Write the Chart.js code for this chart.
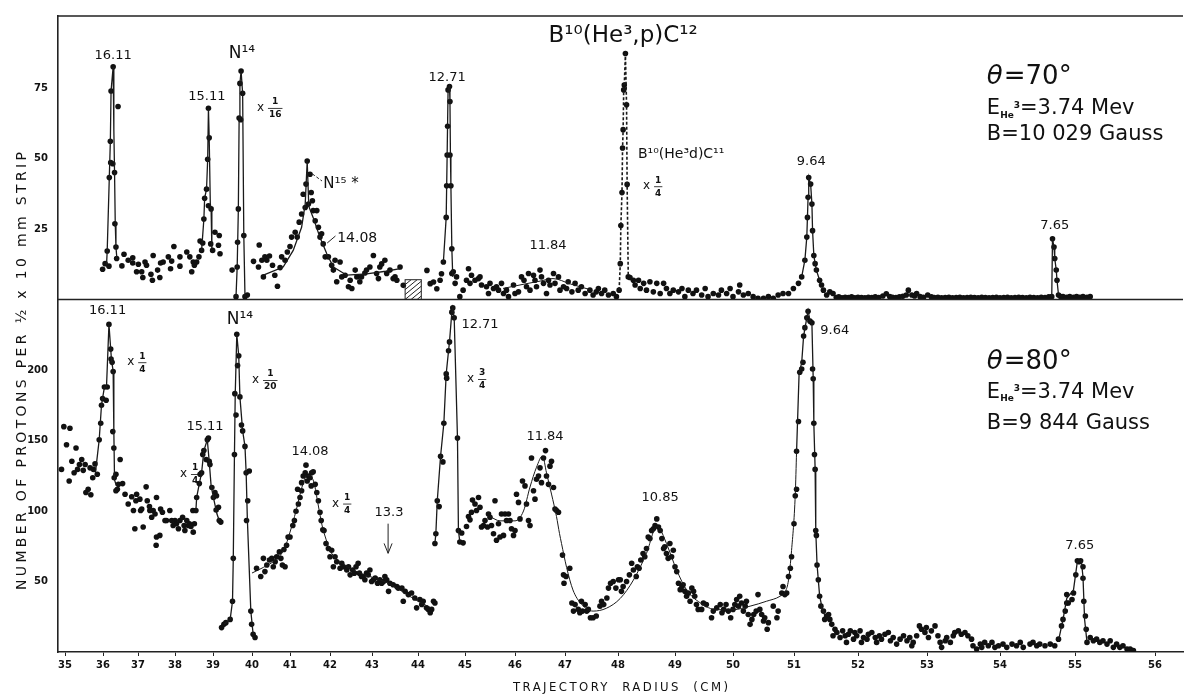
<!DOCTYPE html>
<html>
<head>
<meta charset="utf-8">
<script src="https://cdn.jsdelivr.net/npm/chart.js@4.4.1/dist/chart.umd.min.js"></script>
<style>
  html, body { margin: 0; padding: 0; background: #fff; }
  #contenedor { position: relative; width: 1196px; height: 698px; }
</style>
</head>
<body>
<div id="contenedor"><canvas id="espectro"></canvas></div>
<script>
// Marcas del eje de radio (cm) y su posición medida sobre la placa (la dispersión no es lineal)
const marcasRadio = [35, 36, 37, 38, 39, 40, 41, 42, 43, 44, 45, 46, 47, 48, 49, 50, 51, 52, 53, 54, 55, 56];
const posicionMarcas = [7, 45, 80, 117, 155, 194, 232, 272, 314, 360, 407, 457, 507, 560, 617, 675, 736, 800, 869, 942, 1017, 1097];
const radioMin = 34.82, radioMax = 56.35, anchoPlaca = 1125;

const marcasArriba = [25, 50, 75];
const marcasAbajo = [50, 100, 150, 200];

// theta = 70 grados: puntos medidos
const puntosArriba = [
  [35.99,10.7],[36.06,12.7],[36.12,17.2],[36.17,11.8],[36.18,43.2],[36.21,56.1],[36.22,48.5],[36.23,73.9],[36.28,48.1],[36.29,82.5],[36.33,45],[36.34,26.8],[36.37,18.6],[36.39,14.5],[36.43,68.4],
  [36.54,11.9],[36.6,16],[36.72,13.9],[36.85,14.8],[36.85,12.9],[36.96,9.8],[37.01,12.5],[37.1,9.8],[37.13,7.8],[37.19,13.3],[37.23,12.1],[37.35,8.9],[37.39,6.8],[37.41,15.6],[37.53,10.4],[37.59,7.8],[37.61,12.9],[37.68,13.3],[37.82,15.1],[37.88,10.9],[37.91,13.6],[37.97,18.8],[38.13,11.8],[38.13,15.1],[38.31,16.8],[38.39,15.1],[38.44,9.8],[38.48,13.3],[38.51,12.1],[38.57,13.3],[38.63,15.1],[38.66,20.7],[38.7,17.4],[38.73,20],
  [38.76,28.5],[38.78,35.9],[38.83,39.1],[38.86,49.7],[38.88,67.8],[38.9,57.3],[38.88,33.2],[38.95,32.1],[38.94,19.7],[38.99,17.4],[39.05,23.8],[39.14,19.2],[39.16,22.7],[39.18,16.2],
  [39.49,10.4],[39.59,1],[39.62,11.5],[39.63,20.3],[39.65,32.1],[39.67,64.3],[39.69,76.6],[39.71,63.7],[39.72,81],[39.76,73.1],[39.79,22.7],[39.82,1],[39.88,1.6],
  [40.04,13.5],[40.19,19.3],[40.17,11.5],[40.26,13.9],[40.3,8],[40.34,15.1],[40.39,13.9],[40.46,15.4],[40.54,12.1],[40.6,8.6],[40.67,4.7],[40.74,11.3],[40.78,15.1],[40.87,13.9],[40.93,16.8],[41,18.8],[41.04,22.1],[41.13,23.8],[41.18,22.1],[41.23,27.4],[41.29,30.3],[41.33,37.3],[41.38,32.6],[41.4,40.9],[41.43,49.1],[41.46,33.8],[41.5,44.4],[41.53,37.9],[41.56,35],[41.58,31.5],[41.63,27.9],[41.67,31.5],[41.71,25.6],[41.75,22.1],[41.79,23.3],[41.83,19.7],[41.88,15.1],[41.96,15.1],[42.04,12.1],[42.08,10.4],[42.12,13.9],[42.16,6.3],[42.24,13.3],[42.28,8],[42.36,8.6],[42.44,4.5],[42.48,6.8],[42.52,3.9],[42.6,10.4],[42.64,8],[42.71,6.3],[42.75,8],[42.83,9.4],[42.87,10.4],[42.95,11.5],[43.03,15.6],[43.1,9.2],[43.14,7.4],[43.17,11.5],[43.21,12.6],[43.28,13.9],[43.32,9.2],[43.39,10.4],[43.46,7.4],[43.5,8],[43.54,6.8],[43.61,11.5],[43.68,5],
  [44.19,10.3],[44.26,5.6],[44.33,6.2],[44.4,3.8],[44.47,6.8],[44.5,9.1],[44.54,13.3],[44.6,29.1],[44.61,40.3],[44.62,51.2],[44.63,61.4],[44.64,74.3],[44.67,75.5],[44.68,70.2],[44.68,51.2],[44.7,40.3],[44.72,18],[44.72,9.2],[44.75,9.8],[44.79,5.7],[44.82,8],[44.89,1],[44.96,3.3],
  [45.03,6.8],[45.07,10.9],[45.1,5.7],[45.13,8.6],[45.2,6.8],[45.27,7.4],[45.3,8],[45.33,5.1],[45.43,4.5],[45.47,2.1],[45.5,5.7],[45.57,3.9],[45.63,4.5],[45.67,3.3],[45.73,5.7],[45.77,2.1],[45.83,3.3],[45.87,1],[45.97,5.1],[46,2.1],[46.07,2.7],[46.13,8],[46.18,6.8],[46.23,4.5],[46.27,9.2],[46.3,3.3],[46.37,8.6],[46.4,6.8],[46.43,4.5],[46.5,10.4],[46.53,8],[46.57,5.7],[46.63,2.1],[46.67,6.8],[46.7,5.1],[46.77,9.2],[46.8,5.7],[46.87,8],[46.9,3.3],[46.97,4.5],[47.03,3.9],[47.06,6.3],[47.13,2.7],[47.19,5.7],[47.25,3.3],[47.31,4.5],[47.38,2.1],[47.47,3.3],[47.53,1.6],[47.59,2.7],[47.63,3.9],[47.69,2.1],[47.75,3.3],[47.82,1.6],[47.91,2.1],[47.97,1],
  [48.21,7.8],[48.27,6.8],[48.3,5.1],[48.36,6.8],[48.39,3.9],[48.45,5.7],[48.5,3.3],[48.56,6.3],[48.62,2.7],[48.68,5.7],[48.74,2.1],[48.8,5.7],[48.85,3.9],[48.91,2.1],[48.97,3.3],[49.06,2.7],[49.12,3.9],[49.17,1],[49.23,3.3],[49.31,2.1],[49.37,3.3],
  [49.46,1.6],[49.52,3.9],[49.57,1],[49.66,2.1],[49.75,1.6],[49.8,3.3],[49.89,2.1],[49.95,3.9],[50,1],[50.09,2.7],[50.11,5.1],[50.17,1.6],[50.25,2.1],[50.33,1],[50.41,0.4],[50.5,0.4],[50.58,1],[50.66,0.4],[50.74,1.6],[50.82,2.1],[50.91,2.1],[50.99,3.9],[51.07,5.7],
  [51.12,8],[51.17,13.9],[51.2,22.1],[51.21,29.1],[51.22,36.2],[51.23,43.2],[51.26,40.9],[51.28,33.8],[51.29,24.4],[51.31,15.6],[51.33,12.7],[51.35,10.4],[51.4,6.8],[51.43,5.1],[51.46,3.3],[51.51,1.6],[51.56,2.7],[51.61,2.1],
  [51.66,0.7],[51.7,0.9],[51.75,0.6],[51.8,0.8],[51.85,0.7],[51.9,0.9],[51.95,0.6],[52,0.8],[52.05,0.7],[52.1,0.6],[52.15,0.8],[52.2,0.7],[52.25,0.9],[52.3,0.7],[52.36,1.2],[52.41,2],[52.46,1],[52.5,0.8],[52.55,0.7],[52.6,0.9],[52.65,1.1],[52.7,1.6],[52.73,3.3],[52.78,1.6],[52.82,1.2],[52.85,2.1],[52.9,1],[52.95,0.8],[53.01,1.6],[53.06,0.9],[53.1,0.7],[53.15,0.8],[53.2,0.6],[53.25,0.7],[53.3,0.8],[53.35,0.6],[53.4,0.7],[53.45,0.8],[53.5,0.6],[53.55,0.7],[53.6,0.8],[53.65,0.7],[53.7,0.6],[53.75,0.8],[53.8,0.7],[53.85,0.6],[53.9,0.7],[53.95,0.8],[54,0.6],[54.05,0.7],[54.1,0.8],[54.15,0.6],[54.2,0.7],[54.25,0.8],[54.3,0.7],[54.35,0.6],[54.4,0.8],[54.45,0.7],[54.5,0.6],[54.55,0.8],[54.6,0.7],[54.65,0.9],
  [54.69,1],[54.7,21.5],[54.72,18.6],[54.73,14.5],[54.75,10.4],[54.76,6.8],[54.78,1.6],[54.81,1],[54.84,1],[54.89,0.8],[54.93,1],[54.98,0.8],[55.02,1],[55.06,0.8],[55.1,1],[55.15,0.8],[55.19,1]
];

// B10(He3,d)C11, dibujado a 1/4
const puntosDeuteron = [[48.02,3.3],[48.04,12.7],[48.05,26.2],[48.07,37.9],[48.08,53.7],[48.09,60.2],[48.1,74.3],[48.11,76],[48.13,87.2],[48.15,69],[48.16,40.8],[48.18,8]];

// trazos que unen los picos (theta = 70)
const trazosArriba = [
  [[36.1,12],[36.12,17.2],[36.18,43.2],[36.21,56.1],[36.23,73.9],[36.29,82.5],[36.31,60],[36.33,45],[36.35,27],[36.37,18.6],[36.4,14]],
  [[38.7,17.4],[38.76,28.5],[38.78,35.9],[38.83,39.1],[38.86,49.7],[38.88,67.8],[38.9,57.3],[38.93,33],[38.95,32.1],[38.97,18]],
  [[39.59,1],[39.62,11.5],[39.65,32.1],[39.67,64.3],[39.69,76.6],[39.72,81],[39.76,73.1],[39.79,22.7],[39.82,1]],
  [[40.3,8.6],[40.82,11.5],[41.08,17.4],[41.29,25.6],[41.38,33.8],[41.43,49],[41.47,33],[41.58,29],[41.75,22],[41.92,16.2],[42.08,11.5],[42.4,8.6],[42.87,9.1],[43.3,10],[43.61,10.9]],
  [[44.54,13.3],[44.6,29.1],[44.62,51.2],[44.64,74.3],[44.67,75.5],[44.68,70.2],[44.69,51],[44.7,40.3],[44.72,18],[44.74,8]],
  [[51.12,8],[51.17,13.9],[51.2,22.1],[51.21,29.1],[51.22,36.2],[51.23,43.2],[51.26,40.9],[51.28,33.8],[51.29,24.4],[51.31,15.6],[51.33,12.7],[51.35,10.4],[51.4,6.8]],
  [[54.69,1],[54.7,21.5],[54.72,18.6],[54.73,14.5],[54.75,10.4],[54.76,6.8],[54.78,1.6]]
];
const ajustesArriba = [
  [[45.76,3.9],[46.2,5.5],[46.5,6.5],[46.76,7.4],[47.1,5.5],[47.47,3.5]]
];

// theta = 80 grados: puntos medidos
const puntosAbajo = [
  [34.91,129.5],[34.97,159.8],[35.04,147],[35.11,121.3],[35.13,158.7],[35.18,135.3],[35.24,127.1],[35.29,144.7],[35.33,129.5],[35.38,133],[35.44,136.5],[35.48,128.8],[35.53,133],[35.55,113.1],[35.61,115.4],[35.66,130.6],[35.68,111.5],[35.73,123.6],[35.75,129.5],[35.79,133.4],[35.85,126],
  [35.9,150.5],[35.94,162.2],[35.96,175],[35.99,179.7],[36.04,187.9],[36.09,178.5],[36.12,187.9],[36.17,232.3],[36.22,214.8],[36.23,207.8],[36.26,205.4],[36.29,198.9],[36.28,156.3],[36.31,144.7],[36.32,123.6],[36.37,126],[36.37,114.3],[36.41,115.4],[36.49,136.5],[36.44,118.9],
  [36.56,119.4],[36.63,111.9],[36.72,104.9],[36.82,110.1],[36.87,100.3],[36.94,107.3],[36.96,111.9],[36.91,87.4],[37.05,108.4],[37.07,100.3],[37.1,101.4],[37.14,88.6],[37.22,117.1],[37.25,107.3],[37.31,103.1],[37.32,100.3],[37.37,95.6],[37.41,100.3],[37.46,97.9],[37.5,81.5],[37.49,75.7],[37.59,82.7],[37.5,109.6],[37.61,101.4],[37.66,99.1],[37.73,93.2],[37.77,93.2],[37.86,100.3],[37.91,93.2],[37.95,89.7],[38,93.2],[38.04,90.9],[38.09,87.4],[38.13,93.2],[38.2,95.6],[38.24,89.7],[38.26,86.2],[38.31,93.2],[38.35,89.7],[38.38,90.9],[38.42,89],[38.48,85],[38.47,100.3],[38.51,90.9],[38.55,100.3],
  [38.57,109.6],[38.64,119.4],[38.66,126],[38.7,127.1],[38.73,140],[38.76,142.8],[38.82,136.5],[38.85,150.5],[38.88,151.7],[38.9,135.3],[38.92,133],[38.97,116.6],[39.01,109.6],[39.05,113.1],[39.08,100.7],[39.09,110.8],[39.14,102.6],[39.16,93.2],[39.2,92.1],
  [39.22,17.3],[39.28,19.6],[39.33,20.8],[39.44,23.1],[39.5,36],[39.52,66.4],[39.55,140],[39.56,183.2],[39.59,168],[39.61,225.3],[39.63,203.1],[39.66,210.1],[39.69,180.9],[39.73,161],[39.76,156.8],[39.82,145.8],[39.85,127.1],[39.86,93.2],[39.89,107.3],[39.93,128.3],[39.97,29],[39.99,19.6],[40.03,12.6],[40.08,10.3],
  [40.12,59.4],[40.23,53.5],[40.3,66.4],[40.34,57],[40.39,61.7],[40.46,65.2],[40.52,66.4],[40.56,60.5],[40.61,64],[40.65,67.5],[40.72,71],[40.76,66.4],[40.8,61.7],[40.84,72.7],[40.87,60.5],[40.91,75.7],[40.95,81.5],[41,81.5],[41.07,89.7],[41.11,93.2],[41.15,99.8],[41.21,104.9],[41.19,115.4],[41.25,109.6],[41.29,114.3],[41.29,120.1],[41.33,124.8],[41.38,127.1],[41.4,132.5],[41.43,121.3],[41.46,124.8],[41.5,123.6],[41.53,117.8],[41.54,127.1],[41.58,127.8],[41.63,118.9],[41.67,113.1],[41.71,107.3],[41.75,99.1],[41.78,93.2],[41.82,86.7],[41.85,86.2],[41.9,76.9],[41.96,73.4],[42,67.5],[42.04,72.2],[42.08,60.5],[42.12,67.5],[42.16,64],[42.24,59.4],[42.28,62.9],[42.32,60.5],[42.4,58.2],[42.44,60.5],[42.48,54.7],[42.54,58.2],[42.58,55.9],[42.62,60.5],[42.67,62.9],[42.7,55.9],[42.75,53.5],[42.79,53.5],[42.83,51.2],[42.87,55.9],[42.91,54.7],[42.95,58.2],[42.99,50],[43.03,51.2],[43.07,52.4],[43.12,48.8],[43.17,51.2],[43.21,48.8],[43.25,50],[43.28,53.5],[43.32,51.2],[43.36,43],[43.39,48.8],[43.46,47.7],[43.54,46.5],[43.57,45.3],[43.65,45.3],[43.68,36],[43.72,43],[43.79,40.7],[43.86,41.8],[43.93,38.3],[43.97,31.3],[44.04,37.2],[44.08,33.7],[44.11,36],[44.18,31.3],[44.22,30.2],[44.26,27.8],[44.29,30.2],[44.33,36],[44.36,34.8],
  [44.36,76.9],[44.38,83.9],[44.41,107.3],[44.45,103.1],[44.48,138.8],[44.53,134.8],[44.55,162.2],[44.6,197.2],[44.61,194.2],[44.65,213.6],[44.67,219.9],[44.72,241],[44.74,244],[44.77,237],[44.84,151.7],[44.86,86.2],[44.89,78],[44.93,84.4],[44.96,77.4],
  [45.03,89],[45.07,96],[45.1,93.7],[45.13,99.1],[45.15,107.7],[45.2,104.9],[45.23,100.3],[45.27,109.6],[45.3,102.6],[45.33,88.6],[45.37,89.7],[45.4,93.2],[45.45,88.6],[45.47,97.9],[45.5,95.6],[45.53,89.7],[45.57,83.9],[45.6,107.3],[45.63,79.2],[45.67,90.9],[45.7,81.6],[45.73,97.9],[45.77,82.7],[45.8,97.9],[45.83,93.2],[45.87,97.9],[45.9,93.2],[45.93,87.4],[45.97,82.7],[46,86.2],[46.03,111.9],[46.07,106.1],[46.1,94.4],[46.15,121.3],[46.2,117.8],[46.23,104.9],[46.27,93.2],[46.3,89.7],[46.33,137.6],[46.37,114.3],[46.4,108.4],[46.43,122.5],[46.47,124.8],[46.5,130.6],[46.53,120.1],[46.57,137.6],[46.61,142.8],[46.63,124.8],[46.67,118.9],[46.7,131.8],[46.73,135.3],[46.77,116.6],[46.8,101.4],[46.83,100.3],[46.87,99.1],
  [46.95,68.7],[46.97,54.7],[46.98,48.8],[47.02,53.5],[47.09,59.4],[47.13,34.8],[47.16,29],[47.19,33.6],[47.25,30.2],[47.28,27.8],[47.31,36],[47.33,29],[47.38,33.6],[47.41,29],[47.44,30.2],[47.48,24.3],[47.53,24.3],[47.59,25.5],[47.66,32.5],[47.69,36],[47.73,33.6],[47.79,38.3],[47.82,45.3],[47.86,48.8],[47.91,50],[47.96,45.3],[48.01,51.2],[48.04,51.2],[48.06,43],[48.09,46.5],[48.15,50],[48.2,54.7],[48.24,62.9],[48.27,58.2],[48.32,53.5],[48.34,60.5],[48.37,59.4],[48.4,65.2],[48.44,69.9],[48.47,67.5],[48.5,73.4],[48.53,81.6],[48.56,80.4],[48.59,86.2],[48.62,87.4],[48.65,89.7],[48.68,94.4],[48.71,88.6],[48.74,86.2],[48.77,80.4],[48.8,73.4],[48.82,74.6],[48.85,69.9],[48.88,66.4],[48.91,76.9],[48.94,67.5],[48.97,72.2],[49,60.5],[49.03,57],[49.06,48.8],[49.09,44.2],[49.12,46.5],[49.14,47.7],[49.17,43],[49.2,39.5],[49.23,41.8],[49.26,36],[49.29,45.3],[49.32,43],[49.34,39.5],[49.37,33.6],[49.4,30.2],[49.46,30.2],[49.49,34.8],[49.54,33.6],[49.63,24.3],[49.66,29],[49.72,31.3],[49.78,33.6],[49.81,27.8],[49.84,30.2],[49.88,33.6],[49.92,29],[49.96,24.3],[50,30.2],[50.03,33.6],[50.06,37.2],[50.09,32.5],[50.11,39.5],[50.14,34.8],[50.17,29],[50.2,32.5],[50.22,36],[50.25,26.6],[50.28,19.6],[50.31,23.1],[50.34,26.6],[50.38,29],[50.41,40.7],[50.44,30.2],[50.47,26.6],[50.5,22],[50.52,24.3],[50.56,16.1],[50.58,20.8],[50.66,32.5],[50.72,24.3],[50.74,29],[50.8,41.8],[50.82,46.5],[50.85,40.7],[50.88,41.8],[50.91,53.5],[50.94,59.4],[50.96,67.5],[51,90.9],[51.02,110.8],[51.04,115.4],[51.04,142.3],[51.07,163.4],[51.09,198.4],
  [51.12,200.7],[51.14,205.4],[51.15,224.1],[51.17,230],[51.2,237],[51.22,241.6],[51.25,234.6],[51.28,233.5],[51.29,200.7],[51.3,193.7],[51.31,162.2],[51.32,140],[51.33,129.5],[51.34,86.2],[51.35,82.7],[51.36,61.7],[51.38,51.2],[51.4,39.5],[51.42,32.5],[51.46,29],[51.48,23.1],[51.51,25.5],[51.54,26.6],[51.56,23.1],[51.59,19.6],[51.61,11.5],[51.64,16.1],[51.67,13.8],[51.72,10.3],[51.76,15],[51.8,11.5],[51.82,6.8],[51.85,12.6],[51.88,15],[51.93,9.1],[51.95,13.8],[51.98,11.5],[52.03,15],[52.05,6.8],[52.08,10.3],[52.13,9.1],[52.15,12.6],[52.2,13.8],[52.25,10.3],[52.27,6.8],[52.31,11.5],[52.34,9.1],[52.39,12.6],[52.44,13.8],[52.47,8],[52.51,10.3],[52.56,5.6],[52.61,9.1],[52.66,11.5],[52.71,8],[52.75,10.3],[52.78,4.4],[52.8,6.8],[52.85,11.5],[52.89,18.5],[52.92,16.1],[52.97,13.8],[52.99,17.3],[53.02,10.3],[53.06,15],[53.11,18.5],[53.15,11.5],[53.18,6.8],[53.2,3.3],[53.25,8],[53.27,10.3],[53.32,6.8],[53.36,11.5],[53.38,13.8],[53.43,15],[53.47,12.6],[53.52,13.8],[53.56,11.5],[53.61,9.1],[53.63,4.4],[53.68,2.1],[53.73,5.6],[53.75,3.3],[53.79,6.8],[53.84,4.4],[53.89,6.8],[53.93,3.3],[53.98,4.4],[54.04,5.6],[54.09,3.3],[54.16,5.6],[54.22,4.4],[54.27,6.8],[54.31,3.3],[54.4,5.6],[54.44,6.8],[54.49,4.4],[54.53,5.6],[54.6,4.4],[54.67,5.6],[54.73,4.4],
  [54.78,9.1],[54.82,18.5],[54.84,23.1],[54.87,29],[54.89,34.8],[54.89,40.7],[54.91,34.8],[54.96,37.2],[54.98,41.8],[55.01,54.7],[55.03,64.7],[55.05,64],[55.07,64.7],[55.1,60.5],[55.1,52.3],[55.11,36],[55.13,25.5],[55.14,16.1],[55.15,6.8],[55.19,10.3],[55.23,8],[55.27,9.1],[55.31,6.8],[55.35,8],[55.4,5.6],[55.44,8],[55.48,3.3],[55.52,5.6],[55.56,3.3],[55.6,4.4],[55.65,2.1],[55.69,2.1],[55.73,1]
];

// trazos que unen los picos (theta = 80)
const trazosAbajo = [
  [[35.8,127],[35.9,150.5],[35.96,175],[36.04,187.9],[36.1,188],[36.17,232.3],[36.24,208],[36.29,198.9],[36.31,156],[36.33,122],[36.38,118]],
  [[38.55,100.3],[38.57,109.6],[38.64,119.4],[38.7,127.1],[38.76,142.8],[38.85,150.5],[38.9,135.3],[38.95,118],[39.01,109.6],[39.1,98],[39.16,93.2]],
  [[39.28,19.6],[39.44,23.1],[39.5,36],[39.52,66.4],[39.55,140],[39.57,183],[39.61,225.3],[39.66,210.1],[39.69,180.9],[39.76,156.8],[39.82,145.8],[39.85,127.1],[39.88,95],[39.97,29],[40.03,12.6]],
  [[44.36,76.9],[44.38,83.9],[44.41,107.3],[44.48,138.8],[44.55,162.2],[44.6,197.2],[44.65,213.6],[44.67,219.9],[44.72,241],[44.74,244],[44.77,237],[44.84,151.7],[44.86,86.2],[44.89,78]],
  [[51.04,142],[51.08,198],[51.12,205],[51.15,224],[51.2,237],[51.22,242],[51.25,235],[51.28,233],[51.3,194],[51.31,162],[51.33,130],[51.34,86],[51.36,62],[51.38,51],[51.4,40],[51.44,31],[51.48,26]],
  [[54.78,8],[54.84,23],[54.89,38],[54.98,44],[55.03,64.5],[55.08,64.5],[55.1,53],[55.12,23],[55.15,7]]
];
const ajustesAbajo = [
  [[40,56],[40.3,60],[40.6,65],[40.85,73],[41,85],[41.15,100],[41.3,117],[41.42,125],[41.5,125],[41.6,120],[41.7,105],[41.8,90],[41.9,80],[42,72],[42.2,65],[42.5,59],[42.8,55],[43.1,52],[43.4,48],[43.7,42],[44,36],[44.3,31]],
  [[45.5,96],[45.7,93],[46,93],[46.17,100],[46.3,117],[46.43,131],[46.55,139],[46.63,127],[46.73,112],[46.83,96],[46.89,84],[46.93,77],[47.03,60],[47.15,44],[47.31,34],[47.53,29],[47.78,31],[48.04,38],[48.27,51],[48.5,70],[48.68,89],[48.74,87],[48.85,77],[49.03,58],[49.2,44],[49.43,35],[49.72,30],[50,30],[50.28,32.5],[50.55,36],[50.77,39.5],[50.86,43],[50.91,51],[50.96,72],[51.02,112],[51.04,142]]
];

// rótulos de niveles (texto, radio, cuentas)
const rotulosArriba = [['16.11', 36.29, 86.6], ['15.11', 38.84, 71.8], ['12.71', 44.62, 78.8], ['11.84', 46.66, 19], ['9.64', 51.27, 48.9], ['7.65', 54.73, 26]];
const rotulosAbajo = [['16.11', 36.13, 241.8], ['15.11', 38.79, 159.8], ['14.08', 41.5, 142.3], ['13.3', 43.37, 98.8], ['12.71', 45.3, 232], ['11.84', 46.6, 152.8], ['10.85', 48.74, 109.4], ['7.65', 55.06, 75.7]];
// factores de escala (numerador, denominador, radio, cuentas)
const factoresArriba = [['1', '16', 40.13, 67.9], ['1', '4', 48.44, 40.1]];
const factoresAbajo = [['1', '4', 36.69, 205.4], ['1', '4', 38.13, 126.2], ['1', '20', 40.0, 192.8], ['1', '4', 42.05, 105.2], ['3', '4', 45.04, 193.5]];

const FUENTE = '"DejaVu Sans", sans-serif';
const TINTA = '#111';

const nudosValor = [radioMin, ...marcasRadio, radioMax];
const nudosPos = [0, ...posicionMarcas, anchoPlaca];

function posicionEnPlaca(v) {
    let i = 0;
    while (i < nudosValor.length - 2 && v > nudosValor[i + 1]) i++;
    return nudosPos[i] + (v - nudosValor[i]) / (nudosValor[i + 1] - nudosValor[i]) * (nudosPos[i + 1] - nudosPos[i]);
}

function radioEnPlaca(p) {
    let i = 0;
    while (i < nudosPos.length - 2 && p > nudosPos[i + 1]) i++;
    return nudosValor[i] + (p - nudosPos[i]) / (nudosPos[i + 1] - nudosPos[i]) * (nudosValor[i + 1] - nudosValor[i]);
}

class EscalaPlaca extends Chart.LinearScale {
    getPixelForValue(value) {
        if (value === null || value === undefined) return NaN;
        return this.left + posicionEnPlaca(value) / anchoPlaca * this.width;
    }
    getValueForPixel(pixel) {
        return radioEnPlaca((pixel - this.left) / this.width * anchoPlaca);
    }
}
EscalaPlaca.id = 'placa';
EscalaPlaca.defaults = {};
Chart.register(EscalaPlaca);

const aXY = pares => pares.map(([x, y]) => ({ x, y }));

function puntos(pares, eje) {
    return {
        data: aXY(pares), yAxisID: eje, showLine: false,
        pointRadius: 2.8, pointBackgroundColor: TINTA, pointBorderWidth: 0
    };
}

function trazo(pares, eje, suave, extra = {}) {
    return Object.assign({
        data: aXY(pares), yAxisID: eje, showLine: true, pointRadius: 0,
        borderColor: '#1a1a1a', borderWidth: suave ? 1 : 1.3,
        cubicInterpolationMode: suave ? 'monotone' : 'default', tension: 0
    }, extra);
}

const datasets = [
    ...trazosArriba.map(t => trazo(t, 'yTop', false)),
    ...ajustesArriba.map(t => trazo(t, 'yTop', true)),
    trazo(puntosDeuteron, 'yTop', false, { borderDash: [3, 2], borderWidth: 1.6 }),
    puntos(puntosArriba, 'yTop'),
    puntos(puntosDeuteron, 'yTop'),
    ...trazosAbajo.map(t => trazo(t, 'yBot', false)),
    ...ajustesAbajo.map(t => trazo(t, 'yBot', true)),
    puntos(puntosAbajo, 'yBot')
];

// --- ayudas de dibujo de texto ---
function escribir(ctx, s, x, y, size, align = 'center', estilo = '') {
    ctx.font = `${estilo} ${size}px ${FUENTE}`;
    ctx.textAlign = align;
    ctx.textBaseline = 'middle';
    ctx.fillText(s, x, y);
}

function factor(ctx, num, den, x, y) {
    escribir(ctx, 'x', x, y, 12, 'left');
    ctx.font = `bold 9px ${FUENTE}`;
    const w = Math.max(ctx.measureText(num).width, ctx.measureText(den).width) + 2;
    const cx = x + 11;
    escribir(ctx, num, cx + w / 2, y - 6, 9, 'center', 'bold');
    escribir(ctx, den, cx + w / 2, y + 7, 9, 'center', 'bold');
    ctx.fillRect(cx, y, w, 0.8);
}

function energia(ctx, x, y, size) {
    ctx.textAlign = 'left';
    ctx.textBaseline = 'alphabetic';
    const base = y + size * 0.36;
    ctx.font = `${size}px ${FUENTE}`;
    ctx.fillText('E', x, base);
    x += ctx.measureText('E').width;
    ctx.font = `bold ${Math.round(size * 0.42)}px ${FUENTE}`;
    ctx.fillText('He', x, base + size * 0.18);
    const wHe = ctx.measureText('He').width;
    ctx.fillText('3', x + wHe, base - size * 0.3);
    x += wHe + ctx.measureText('3').width;
    ctx.font = `${size}px ${FUENTE}`;
    ctx.fillText('=3.74 Mev', x, base);
}

function condiciones(ctx, x, y1, y2, y3, angulo, campo) {
    ctx.font = `italic 26px ${FUENTE}`;
    ctx.textAlign = 'left';
    ctx.textBaseline = 'middle';
    ctx.fillText('θ', x, y1);
    const wt = ctx.measureText('θ').width;
    escribir(ctx, '=' + angulo + '°', x + wt + 1, y1, 26, 'left');
    energia(ctx, x, y2, 21);
    escribir(ctx, campo, x, y3, 21, 'left');
}

function tituloEspaciado(ctx, s, x, y, size, largo, familia, rotado) {
    ctx.save();
    ctx.translate(x, y);
    if (rotado) ctx.rotate(-Math.PI / 2);
    ctx.font = `${size}px ${familia}`;
    ctx.textAlign = 'left';
    ctx.textBaseline = 'middle';
    const w0 = ctx.measureText(s).width;
    const sep = Math.max(0, (largo - w0) / (s.length - 1));
    ctx.letterSpacing = sep + 'px';
    ctx.fillText(s, -largo / 2, 0);
    ctx.restore();
}

const anotaciones = {
    id: 'anotaciones',
    afterDatasetsDraw(chart) {
        const { ctx, chartArea: area, scales } = chart;
        const sx = scales.x, st = scales.yTop, sb = scales.yBot;
        const X = v => sx.getPixelForValue(v);
        const YT = v => st.getPixelForValue(v);
        const YB = v => sb.getPixelForValue(v);

        ctx.save();
        ctx.fillStyle = TINTA;
        ctx.strokeStyle = '#222';

        // marco superior y separación de paneles
        ctx.lineWidth = 1.6;
        ctx.beginPath();
        ctx.moveTo(area.left, area.top); ctx.lineTo(area.right, area.top);
        ctx.moveTo(area.left, st.bottom); ctx.lineTo(area.right, st.bottom);
        ctx.stroke();

        // zona rayada sin datos
        const hx0 = X(43.72), hx1 = X(44.07), hy0 = YT(7), hy1 = YT(0);
        ctx.lineWidth = 1;
        ctx.strokeRect(hx0, hy0, hx1 - hx0, hy1 - hy0);
        ctx.save();
        ctx.beginPath(); ctx.rect(hx0, hy0, hx1 - hx0, hy1 - hy0); ctx.clip();
        ctx.beginPath();
        for (let k = -30; k < 40; k += 6) { ctx.moveTo(hx0 + k, hy1); ctx.lineTo(hx0 + k + 24, hy0); }
        ctx.stroke();
        ctx.restore();

        // rótulos de niveles
        rotulosArriba.forEach(([s, x, y]) => escribir(ctx, s, X(x), YT(y), 13));
        rotulosAbajo.forEach(([s, x, y]) => escribir(ctx, s, X(x), YB(y), 13));
        escribir(ctx, '9.64', X(51.41), YB(227.8), 13, 'left');
        escribir(ctx, '14.08', X(42.17), YT(21.5), 14, 'left');
        factoresArriba.forEach(([n, d, x, y]) => factor(ctx, n, d, X(x), YT(y)));
        factoresAbajo.forEach(([n, d, x, y]) => factor(ctx, n, d, X(x), YB(y)));

        escribir(ctx, 'N¹⁴', X(39.74), YT(87.3), 17);
        escribir(ctx, 'N¹⁴', X(39.69), YB(235.5), 17);
        escribir(ctx, 'N¹⁵ *', X(41.83), YT(40.8), 15, 'left');
        escribir(ctx, 'B¹⁰(He³,p)C¹²', X(48.09), YT(93.3), 23);
        escribir(ctx, 'B¹⁰(He³d)C¹¹', X(48.35), YT(51.4), 14, 'left');

        // líneas guía
        ctx.lineWidth = 1;
        ctx.setLineDash([3, 2]);
        ctx.beginPath();
        ctx.moveTo(X(41.56), YT(44.5)); ctx.lineTo(X(41.8), YT(42));
        ctx.stroke();
        ctx.setLineDash([]);
        ctx.beginPath();
        ctx.moveTo(X(41.93), YT(20)); ctx.lineTo(X(42.13), YT(22.5));
        ctx.stroke();

        // flecha del nivel 13.3
        const ax = X(43.35);
        ctx.beginPath();
        ctx.moveTo(ax, YB(91)); ctx.lineTo(ax, YB(70));
        ctx.moveTo(ax - 4, YB(77)); ctx.lineTo(ax, YB(70)); ctx.lineTo(ax + 4, YB(77));
        ctx.stroke();

        // condiciones de cada exposición
        condiciones(ctx, X(53.82), YT(78.8), YT(68.3), YT(58.4), '70', 'B=10 029 Gauss');
        condiciones(ctx, X(53.82), YB(205.4), YB(185.8), YB(161.9), '80', 'B=9 844 Gauss');

        // títulos de ejes
        tituloEspaciado(ctx, 'NUMBER OF PROTONS PER ½ x 10 mm STRIP', 22, 371, 14, 438, FUENTE, true);
        tituloEspaciado(ctx, 'TRAJECTORY  RADIUS  (CM)', (area.left + area.right) / 2, 688, 13, 215, '"DejaVu Sans Condensed", ' + FUENTE, false);
        ctx.restore();
    }
};

const ctx = document.getElementById('espectro').getContext('2d');
new Chart(ctx, {
    type: 'scatter',
    data: { datasets },
    options: {
        responsive: true,
        maintainAspectRatio: false,
        animation: false,
        devicePixelRatio: 1,
        layout: { padding: { top: 10, right: 13, left: 0, bottom: 0 } },
        plugins: { legend: { display: false }, tooltip: { enabled: false } },
        scales: {
            x: {
                type: 'placa',
                min: radioMin,
                max: radioMax,
                afterBuildTicks: s => { s.ticks = marcasRadio.map(v => ({ value: v })); },
                afterFit: s => { s.height = 46; },
                border: { display: true, color: '#222', width: 1.6 },
                grid: { display: true, drawOnChartArea: false, drawTicks: true, tickLength: 4, color: '#222' },
                ticks: { autoSkip: false, maxRotation: 0, padding: 3, color: TINTA, font: { family: FUENTE, size: 10, weight: 'bold' } }
            },
            yBot: {
                type: 'linear',
                position: 'left',
                stack: 'paneles',
                stackWeight: 250,
                min: 0,
                max: 250,
                afterBuildTicks: s => { s.ticks = marcasAbajo.map(v => ({ value: v })); },
                afterFit: s => { s.width = 58; },
                border: { display: true, color: '#222', width: 1.6 },
                grid: { display: false, drawTicks: false },
                ticks: { padding: 10, color: TINTA, font: { family: FUENTE, size: 10, weight: 'bold' } }
            },
            yTop: {
                type: 'linear',
                position: 'left',
                stack: 'paneles',
                stackWeight: 201,
                min: 0,
                max: 100.5,
                afterBuildTicks: s => { s.ticks = marcasArriba.map(v => ({ value: v })); },
                afterFit: s => { s.width = 58; },
                border: { display: true, color: '#222', width: 1.6 },
                grid: { display: false, drawTicks: false },
                ticks: { padding: 10, color: TINTA, font: { family: FUENTE, size: 10, weight: 'bold' } }
            }
        }
    },
    plugins: [anotaciones]
});
</script>
</body>
</html>
